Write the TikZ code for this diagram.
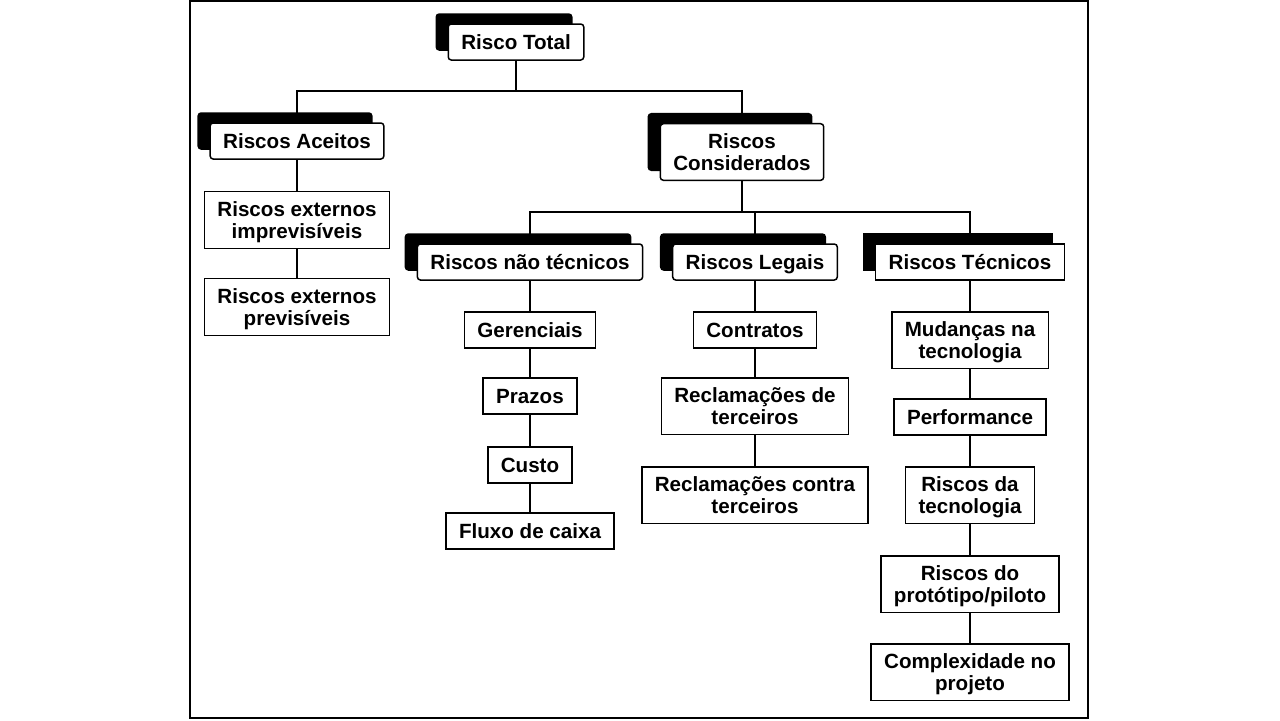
\documentclass[tikz,border=0pt]{standalone}
\usepackage{fontspec}
\setmainfont{Liberation Sans}
\usetikzlibrary{shadows, backgrounds}

\begin{document}
\begin{tikzpicture}[x=0.5pt, y=-0.5pt,
      box/.style={draw, fill=white, line width=0.75pt, font=\fontsize{10.3}{10.8}\selectfont\bfseries,
        align=center, inner xsep=6.5pt, inner ysep=5pt, text depth=0pt, minimum height=18pt},
      head/.style={box, rounded corners=1.5pt,
        copy shadow={shadow xshift=-6pt, shadow yshift=5pt, fill=black, draw=black}},
      link/.style={line width=0.75pt}
    ]
      \useasboundingbox (0,0) rectangle (1280,720);
      \draw[line width=1pt] (190,1) rectangle (1088,718);

      % Top levels
      \node[head] (total) at (516,42) {Risco Total};
      \node[head] (aceitos) at (297,141) {Riscos Aceitos};
      \node[head] (consid) at (742,152) {Riscos\\Considerados};

      % Accepted risks
      \node[box] (extimp) at (297,220) {Riscos externos\\imprevisíveis};
      \node[box] (extprev) at (297,307) {Riscos externos\\previsíveis};

      % Considered risks
      \node[head] (naotec) at (530,262) {Riscos não técnicos};
      \node[head] (legais) at (755,262) {Riscos Legais};
      \node[head, sharp corners] (tecnicos) at (970,262) {Riscos Técnicos};

      \node[box] (gerenc) at (530,330) {Gerenciais};
      \node[box] (prazos) at (530,396) {Prazos};
      \node[box] (custo) at (530,465) {Custo};
      \node[box] (fluxo) at (530,531) {Fluxo de caixa};

      \node[box] (contratos) at (755,330) {Contratos};
      \node[box] (recltercs) at (755,406) {Reclamações de\\terceiros};
      \node[box] (reclcontra) at (755,495) {Reclamações contra\\terceiros};

      \node[box] (mudancas) at (970,340) {Mudanças na\\tecnologia};
      \node[box] (perf) at (970,417) {Performance};
      \node[box] (risctec) at (970,495) {Riscos da\\tecnologia};
      \node[box] (prototipo) at (970,584) {Riscos do\\protótipo/piloto};
      \node[box] (complex) at (970,672) {Complexidade no\\projeto};

      % Connectors
      \begin{scope}[on background layer]
        \draw[link] (total.south) -- ++(0,30) -| (aceitos.north);
        \draw[link] (total.south) -- ++(0,30) -| (consid.north);
        \draw[link] (consid.south) -- ++(0,31) -| (naotec.north);
        \draw[link] (consid.south) -- ++(0,31) -| (legais.north);
        \draw[link] (consid.south) -- ++(0,31) -| (tecnicos.north);
        \draw[link] (aceitos) -- (extimp) -- (extprev);
        \draw[link] (naotec) -- (gerenc) -- (prazos) -- (custo) -- (fluxo);
        \draw[link] (legais) -- (contratos) -- (recltercs) -- (reclcontra);
        \draw[link] (tecnicos) -- (mudancas) -- (perf) -- (risctec) -- (prototipo) -- (complex);
      \end{scope}
    \end{tikzpicture}
\end{document}
